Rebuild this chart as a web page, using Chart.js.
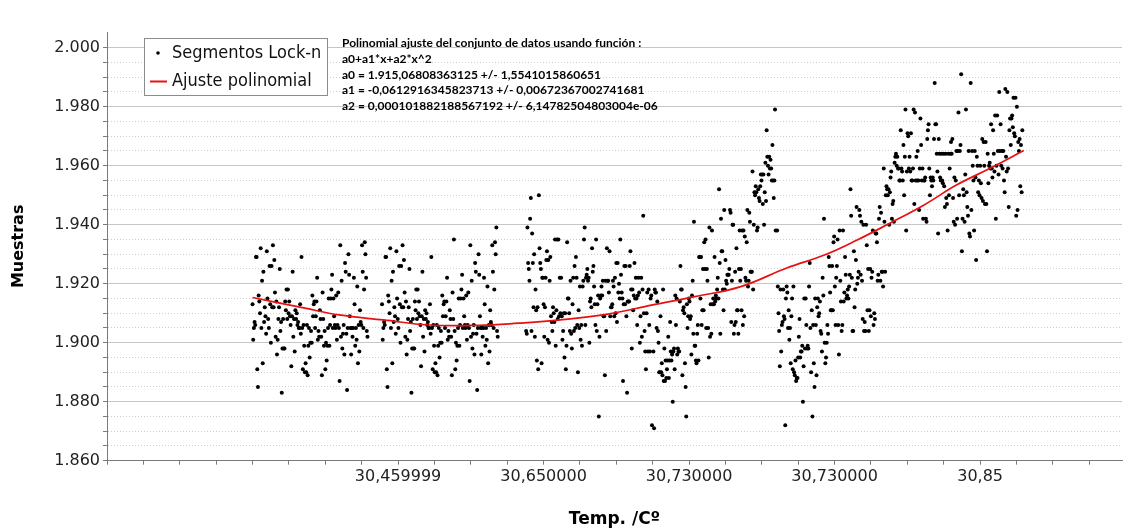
<!DOCTYPE html>
<html lang="es">
<head>
<meta charset="utf-8">
<title>Segmentos Lock-n</title>
<script src="https://cdn.jsdelivr.net/npm/chart.js@4.4.1/dist/chart.umd.min.js"></script>
<style>
  html, body { margin: 0; padding: 0; background: #fff; }
  #contenedor { position: relative; width: 1126px; height: 532px; }
</style>
</head>
<body>
<div id="contenedor"><canvas id="chart" width="1126" height="532"></canvas></div>
<script>
// eje x = numero de muestra, cada segmento son muestras consecutivas
var segmentoA = [1.913,1.901,1.905,1.907,1.906,1.929,1.929,1.891,1.885,1.916,
    1.914,1.910,1.932,1.905,1.921,1.893,1.924,1.907,1.912,1.909,
    1.903,1.931,1.915,1.908,1.905,1.926,1.913,1.900,1.926,1.912,
    1.933,1.912,1.928,1.917,1.902,1.914,1.896,1.901,1.908,1.912,
    1.925,1.904,1.907,1.883,1.898,1.908,1.898,1.898,1.914,1.911,
    1.918,1.908,1.918,1.910,1.914,1.909,1.906,1.892,1.909,1.924,
    1.902,1.908,1.897,1.911,1.908,1.910,1.906,1.907,1.905,1.905,
    1.913,1.903,1.929,1.905,1.891,1.906,1.899,1.890,1.893,1.890,
    1.906,1.889,1.899,1.905,1.895,1.900,1.904,1.900,1.916,1.909,
    1.913,1.914,1.905,1.909,1.914,1.922,1.901,1.904,1.902,1.911,
    1.908,1.902,1.889,1.917,1.908,1.899,1.904,1.891,1.900,1.894,
    1.899,1.905,1.915,1.899,1.906,1.915,1.918,1.923,1.905,1.915,
    1.909,1.906,1.905,1.916,1.901,1.906,1.917,1.905,1.887,1.933,
    1.902,1.921,1.898,1.903,1.906,1.896,1.927,1.924,1.903,1.884,
    1.905,1.930,1.923,1.909,1.905,1.896,1.905,1.902,1.905,1.922,
    1.913,1.899,1.905,1.901,1.919,1.893,1.906,1.897,1.911,1.907,
    1.906,1.933,1.924,1.905,1.918,1.934,1.930,1.922,1.904,1.902];

var segmentoB = [1.913,1.901,1.905,1.907,1.906,1.929,1.929,1.891,1.885,1.916,
    1.914,1.910,1.932,1.905,1.921,1.893,1.924,1.907,1.912,1.909,
    1.903,1.931,1.915,1.908,1.905,1.926,1.913,1.900,1.926,1.912,
    1.933,1.912,1.928,1.917,1.902,1.914,1.896,1.901,1.908,1.912,
    1.925,1.904,1.907,1.883,1.898,1.908,1.898,1.898,1.914,1.911,
    1.918,1.908,1.918,1.910,1.914,1.909,1.906,1.892,1.909,1.924,
    1.902,1.908,1.897,1.911,1.908,1.910,1.906,1.907,1.905,1.905,
    1.913,1.903,1.929,1.905,1.891,1.906,1.899,1.890,1.893,1.890,
    1.906,1.889,1.899,1.905,1.895,1.900,1.904,1.900,1.916,1.909,
    1.913,1.914,1.905,1.909,1.914,1.922,1.901,1.904,1.902,1.911,
    1.908,1.902,1.889,1.917,1.908,1.935,1.904,1.891,1.900,1.894,
    1.899,1.905,1.915,1.899,1.906,1.915,1.918,1.923,1.905,1.915,
    1.909,1.906,1.905,1.916,1.901,1.906,1.917,1.905,1.887,1.933,
    1.902,1.921,1.898,1.903,1.906,1.896,1.927,1.924,1.903,1.884,
    1.905,1.930,1.923,1.909,1.905,1.896,1.905,1.902,1.905,1.922,
    1.913,1.899,1.905,1.901,1.919,1.893,1.906,1.897,1.911,1.907,
    1.906,1.933,1.924,1.905,1.918,1.934,1.930,1.939,1.904,1.902];

var segmentoC1 = [1.904,1.903,1.939,1.927,1.925,1.921,1.942,1.949,1.904,1.937,
    1.927,1.912,1.930,1.902,1.918,1.911,1.894,1.912,1.891,1.950,
    1.932,1.927,1.925,1.893,1.922,1.922,1.913,1.902,1.912,1.922,
    1.928,1.931,1.901,1.928,1.900,1.921,1.929,1.909,1.907,1.904,
    1.912,1.910,1.907,1.935,1.899,1.911,1.935,1.908,1.935,1.909,
    1.922,1.910,1.922,1.909,1.901,1.904,1.910,1.895,1.910,1.891,
    1.899,1.934,1.915,1.915,1.910,1.904,1.921,1.903,1.898,1.913,
    1.922,1.904,1.926,1.905,1.929,1.922,1.906,1.890,1.911,1.905,
    1.919,1.901,1.906,1.899,1.919,1.921,1.935,1.939,1.906,1.922,
    1.923,1.925,1.921,1.922,1.900,1.914,1.915,1.912,1.932,1.924,
    1.926,1.919,1.913,1.906,1.935,1.904,1.913,1.916,1.875,1.902,
    1.915,1.916,1.919,1.916,1.921,1.909,1.909,1.889,1.921,1.904,
    1.932,1.921,1.921,1.917,1.931,1.909,1.912,1.912,1.913,1.921,
    1.919,1.909,1.922,1.910,1.927,1.907,1.927,1.917,1.920,1.915,
    1.935,1.923,1.917,1.915,1.887,1.913,1.926,1.913,1.926,1.909,
    1.883,1.914,1.914,1.914,1.926,1.931,1.918,1.898,1.918,1.911,
    1.916,1.927,1.915,1.922,1.915,1.906,1.916,1.922,1.917,1.900,
    1.909,1.922,1.902,1.918,1.943,1.910,1.904,1.897,1.891,1.910,
    1.917,1.897,1.918,1.906,1.897,1.915,1.916,1.872];

var segmentoC2 = [1.897,1.871,1.918,1.917,1.917,1.905,1.914,1.904,1.900,1.890,
    1.890,1.909,1.890,1.893,1.889,1.918,1.887,1.898,1.887,1.894,
    1.888,1.891,1.894,1.902,1.888,1.894,1.907,1.897,1.894,1.896,
    1.880,1.897,1.898,1.891,1.916,1.906,1.915,1.896,1.898,1.897,
    1.897,1.914,1.926,1.918,1.918,1.889,1.911,1.912,1.910,1.893,
    1.885,1.875,1.913,1.905,1.909,1.915,1.914,1.908,1.909,1.896,
    1.916,1.921,1.903,1.941,1.899,1.899,1.894,1.893,1.903,1.906,
    1.894,1.929,1.929,1.915,1.929,1.906,1.911,1.925,1.911,1.934,
    1.925,1.935,1.905,1.925,1.921,1.905,1.895,1.939,1.902,1.913,
    1.903,1.938,1.913,1.915,1.913,1.929,1.914,1.916,1.915,1.918,
    1.922,1.915,1.952,1.927,1.903,1.942,1.931,1.931,1.918,1.911,
    1.945,1.918,1.928,1.921,1.920,1.923,1.923,1.923,1.925,1.945,
    1.944,1.907,1.921,1.940,1.940,1.903,1.906,1.924,1.907,1.932,
    1.911,1.911,1.903,1.925,1.938,1.921,1.925,1.911,1.938,1.906,
    1.938,1.909,1.936,1.922,1.921,1.934,1.945,1.919,1.921,1.944,
    1.941,1.924,1.924,1.924,1.958,1.918,1.940,1.951,1.950,1.953,
    1.951,1.938,1.939,1.952,1.949,1.948,1.953,1.957,1.955,1.957,
    1.947,1.957,1.940,1.951,1.961,1.948,1.972,1.963,1.960,1.957,
    1.963,1.959,1.962,1.959,1.955,1.967,1.955,1.949,1.955,1.979,
    1.938];

var segmentoD = [1.938,1.919,1.910,1.904,1.892,1.918,1.897,1.906,1.907,1.918,
    1.909,1.908,1.872,1.915,1.919,1.917,1.905,1.911,1.901,1.905,
    1.893,1.909,1.915,1.891,1.919,1.890,1.889,1.894,1.887,1.888,
    1.888,1.895,1.902,1.908,1.895,1.897,1.897,1.899,1.880,1.892,
    1.915,1.898,1.915,1.906,1.898,1.899,1.898,1.919,1.927,1.905,
    1.890,1.911,1.875,1.906,1.893,1.885,1.915,1.906,1.889,1.912,
    1.915,1.909,1.910,1.914,1.904,1.903,1.897,1.922,1.916,1.942,
    1.900,1.893,1.895,1.900,1.906,1.903,1.929,1.926,1.917,1.911,
    1.911,1.926,1.911,1.934,1.936,1.919,1.906,1.922,1.926,1.935,
    1.906,1.896,1.938,1.921,1.914,1.904,1.906,1.938,1.914,1.917,
    1.929,1.923,1.915,1.916,1.918,1.915,1.919,1.923,1.952,1.943,
    1.922,1.904,1.904,1.931,1.912,1.918,1.928,1.946,1.920,1.922,
    1.924,1.945,1.943,1.923,1.941,1.921,1.908,1.940,1.904,1.907,
    1.904,1.940,1.933,1.911,1.925,1.904,1.911,1.925,1.909,1.922,
    1.924,1.938,1.906,1.910,1.908,1.937,1.937,1.934,1.921,1.923,
    1.942,1.946,1.921,1.944,1.924,1.924,1.919,1.959,1.941,1.924,
    1.950,1.953,1.952,1.950,1.952,1.940,1.951,1.956,1.958,1.942,
    1.947,1.948,1.941,1.961,1.963,1.964,1.960,1.963,1.959,1.959,
    1.955,1.955,1.972,1.959,1.958,1.955,1.967,1.950,1.963,1.979,
    1.938,1.958,1.971,1.970,1.959,1.963,1.958,1.971,1.955,1.955,
    1.959,1.979,1.947,1.978,1.955,1.963,1.955,1.965,1.955,1.945,
    1.959,1.976,1.967,1.955,1.959,1.942,1.955,1.955,1.956,1.942,
    1.941,1.969,1.972,1.974,1.959,1.950,1.956,1.955,1.953,1.956,
    1.955,1.969,1.988,1.974,1.974,1.964,1.958,1.937,1.969,1.964,
    1.956,1.955,1.964,1.955,1.954,1.964,1.953,1.946,1.964,1.949,
    1.947,1.938,1.964,1.950,1.959,1.964,1.968,1.964,1.969,1.949,
    1.941,1.956,1.940,1.955,1.965,1.942,1.965,1.978,1.950,1.965,
    1.967,1.991,1.931,1.942,1.952,1.950,1.941,1.957,1.979,1.951,
    1.946,1.943,1.965,1.937,1.936,1.988,1.945,1.965,1.960,1.955,
    1.938,1.965,1.956,1.928,1.963,1.960,1.951,1.955,1.950,1.960,
    1.954,1.949,1.969,1.948,1.968,1.960,1.947,1.968,1.947,1.931,
    1.964,1.954,1.960,1.961,1.959,1.974,1.959,1.956,1.972,1.964,
    1.958,1.977,1.942,1.960,1.977,1.965,1.957,1.985,1.965,1.974,
    1.960,1.965,1.959,1.965,1.955,1.951,1.986,1.963,1.958,1.985,
    1.959,1.946,1.972,1.976,1.967,1.976,1.977,1.973,1.983,1.971,
    1.970,1.983,1.943,1.980,1.945,1.968,1.965,1.969,1.953,1.967,
    1.951,1.972];

// primera y ultima muestra de cada segmento
var rangoA = [200, 358];
var rangoB = [378, 537];
var rangoC1 = [576, 749];
var rangoC2 = [751, 919];
var rangoD = [921, 1258];

// curva del ajuste polinomial
var ajusteMuestra = [200, 272, 319, 380, 442, 511, 565, 623, 686, 750, 808, 871, 935, 986, 1031, 1076, 1123, 1168, 1213, 1260];
var ajusteValor = [1.9153, 1.9117, 1.9094, 1.9077, 1.9060, 1.9059, 1.9066, 1.9077, 1.9096, 1.9128,
    1.9156, 1.9190, 1.9254, 1.9297, 1.9348, 1.9405, 1.9467, 1.9535, 1.9590, 1.9651];

// etiquetas del eje de temperatura
var posicionesTemp = [400, 600, 800, 1000, 1200];
var etiquetasTemp = ['30,459999', '30,650000', '30,730000', '30,730000', '30,85'];

var textoAjuste = [
    'Polinomial ajuste del conjunto de datos usando función :',
    'a0+a1*x+a2*x^2',
    'a0 = 1.915,06808363125 +/- 1,5541015860651',
    'a1 = -0,0612916345823713 +/- 0,00672367002741681',
    'a2 = 0,000101882188567192 +/- 6,14782504803004e-06'
];

function puntosSegmento(valores, rango) {
    var paso = (rango[1] - rango[0]) / (valores.length - 1);
    return valores.map(function (v, i) {
        return {x: rango[0] + i * paso, y: v};
    });
}

function esMayor(v) {
    return Math.abs(v * 50 - Math.round(v * 50)) < 1e-6;
}

var muestras = [].concat(
    puntosSegmento(segmentoA, rangoA),
    puntosSegmento(segmentoB, rangoB),
    puntosSegmento(segmentoC1, rangoC1),
    puntosSegmento(segmentoC2, rangoC2),
    puntosSegmento(segmentoD, rangoD)
);

var curva = ajusteMuestra.map(function (m, i) {
    return {x: m, y: ajusteValor[i]};
});

// leyenda con recuadro dentro del area del grafico y texto del ajuste
var leyendaYTexto = {
    id: 'leyendaYTexto',
    afterDraw: function (chart) {
        var ctx = chart.ctx;
        var ds = chart.data.datasets;
        ctx.save();
        ctx.fillStyle = '#ffffff';
        ctx.fillRect(144.5, 38.5, 183, 57);
        ctx.strokeStyle = '#8c8c8c';
        ctx.lineWidth = 1;
        ctx.strokeRect(144.5, 38.5, 183, 57);

        ctx.fillStyle = '#000';
        ctx.beginPath();
        ctx.arc(158, 53, 1.8, 0, Math.PI * 2);
        ctx.fill();
        ctx.strokeStyle = ds[1].borderColor;
        ctx.lineWidth = 2;
        ctx.beginPath();
        ctx.moveTo(150, 81.5);
        ctx.lineTo(167, 81.5);
        ctx.stroke();

        ctx.font = '18px "DejaVu Sans Condensed", "DejaVu Sans", sans-serif';
        ctx.fillStyle = '#111';
        ctx.textBaseline = 'middle';
        ctx.textAlign = 'left';
        ctx.fillText(ds[0].label, 172, 53);
        ctx.fillText(ds[1].label, 172, 81);

        ctx.font = 'bold 12px Lato, "Open Sans", sans-serif';
        ctx.fillStyle = '#000';
        for (var i = 0; i < textoAjuste.length; i++) {
            ctx.fillText(textoAjuste[i], 342, 43.5 + i * 15.7);
        }
        ctx.restore();
    }
};

var canvas = document.getElementById('chart').getContext('2d');
window.grafico = new Chart(canvas, {
    type: 'scatter',
    data: {
        datasets: [{
            label: 'Segmentos Lock-n',
            data: muestras,
            backgroundColor: '#000',
            borderColor: '#000',
            pointRadius: 2,
            pointBorderWidth: 0,
            order: 1
        }, {
            type: 'line',
            label: 'Ajuste polinomial',
            data: curva,
            borderColor: 'rgb(232,16,16)',
            borderWidth: 1.7,
            pointRadius: 0,
            tension: 0.4,
            fill: false,
            order: 0
        }]
    },
    options: {
        responsive: false,
        devicePixelRatio: 1,
        animation: false,
        layout: {
            padding: {left: 0, right: 0, top: 32, bottom: 0}
        },
        plugins: {
            legend: {display: false},
            tooltip: {enabled: false}
        },
        scales: {
            x: {
                type: 'linear',
                min: 0,
                max: 1395,
                afterFit: function (escala) { escala.height = 71.3; },
                ticks: {
                    stepSize: 50,
                    autoSkip: false,
                    maxRotation: 0,
                    includeBounds: false,
                    padding: 3,
                    color: '#222',
                    font: {family: '"DejaVu Sans", Verdana, sans-serif', size: 16},
                    callback: function (valor) {
                        var i = posicionesTemp.indexOf(valor);
                        return i >= 0 ? etiquetasTemp[i] : '';
                    }
                },
                grid: {
                    drawOnChartArea: false,
                    drawTicks: true,
                    tickLength: 4,
                    tickColor: '#7a7a7a'
                },
                border: {color: '#7a7a7a', width: 1},
                title: {
                    display: true,
                    text: 'Temp. /Cº',
                    color: '#000',
                    padding: {top: 0, bottom: 2},
                    font: {family: '"DejaVu Sans", Verdana, sans-serif', size: 17, weight: 'bold'}
                }
            },
            y: {
                min: 1.86,
                max: 2.0053,
                afterFit: function (escala) { escala.width = 107; },
                ticks: {
                    stepSize: 0.005,
                    autoSkip: false,
                    includeBounds: false,
                    padding: 3,
                    color: '#222',
                    font: {family: '"DejaVu Sans", Verdana, sans-serif', size: 16},
                    callback: function (valor) {
                        return esMayor(valor) ? valor.toFixed(3) : '';
                    }
                },
                grid: {
                    tickLength: 4,
                    lineWidth: 1,
                    color: function (c) {
                        var v = c.tick ? c.tick.value : 0;
                        if (v > 2.0001) return 'rgba(0,0,0,0)';
                        return esMayor(v) ? '#c6c6c6' : '#cdcdcd';
                    },
                    tickColor: function (c) {
                        var v = c.tick ? c.tick.value : 0;
                        return v > 2.0001 ? 'rgba(0,0,0,0)' : '#7a7a7a';
                    }
                },
                border: {
                    color: '#7a7a7a',
                    width: 1,
                    dash: function (c) {
                        if (!c.tick) return [];
                        return esMayor(c.tick.value) ? [] : [1, 2];
                    }
                },
                title: {
                    display: true,
                    text: 'Muestras',
                    color: '#000',
                    padding: {top: 9, bottom: 0},
                    font: {family: '"DejaVu Sans", Verdana, sans-serif', size: 16, weight: 'bold'}
                }
            }
        }
    },
    plugins: [leyendaYTexto]
});
</script>
</body>
</html>
